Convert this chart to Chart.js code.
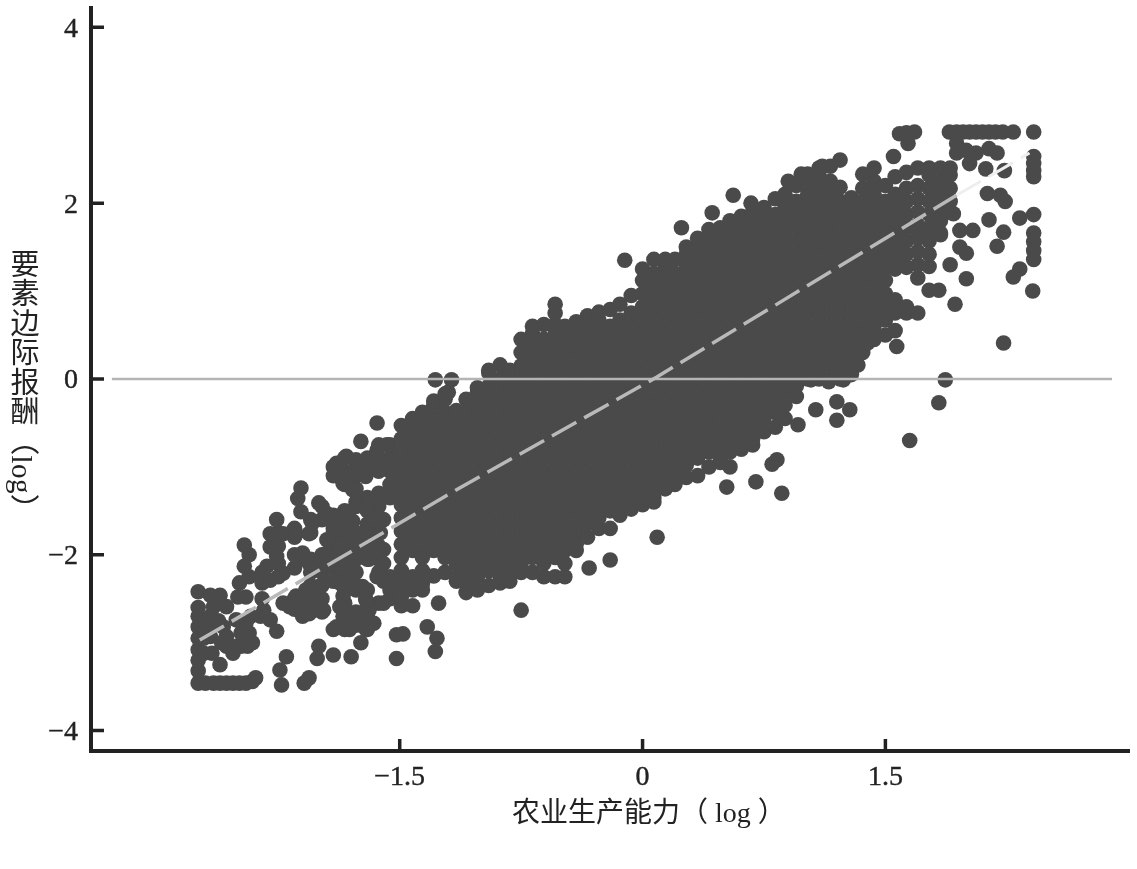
<!DOCTYPE html>
<html><head><meta charset="utf-8">
<script src="https://cdn.jsdelivr.net/npm/chart.js@4"></script>
<style>
html,body{margin:0;padding:0;background:#fff}
#wrap{position:relative;width:1137px;height:869px}
#yt{position:absolute;left:5px;top:249px;writing-mode:vertical-rl;font:29px "Liberation Serif","Noto Sans CJK SC",serif;letter-spacing:.5px;color:#222;line-height:34px;white-space:nowrap}
#xt{position:absolute;left:512px;top:797px;font:28px "Liberation Serif","Noto Sans CJK SC",serif;color:#222;line-height:32px;white-space:nowrap}
</style></head><body>
<div id="wrap"><canvas id="c" width="1137" height="869"></canvas><div id="yt">要素边际报酬（log）</div><div id="xt">农业生产能力（ log ）</div></div>
<script>
const xTickValues=[-1.5,0,1.5];
const yTickValues=[-4,-2,0,2,4];
const denseX=[-1.56,-1.49,-1.42,-1.36,-1.29,-1.22,-1.15,-1.09,-1.02,-.95,-.88,-.82,-.75,-.68,-.61,-.54,-.48,-.41,-.34,-.27,-.2,-.14,-.07,0,.07,.14,.2,.27,.34,.41,.48,.54,.61,.68,.75,.82,.88,.95,1.02,1.09,1.16,1.22,1.29,1.36,1.43,1.5,1.56,1.63,1.7,1.77,1.84,1.9];
const denseY=[
[-2.5,-2.4,-2.25,-1.35,-1.2,-1.05,-.9,-.75],
[-2.58,-2.48,-2.33,-2.18,-2.03,-1.88,-1.73,-1.58,-1.43,-1.28,-1.13,-.98,-.83,-.68,-.53],
[-2.58,-2.4,-2.25,-1.95,-1.8,-1.65,-1.5,-1.35,-1.2,-1.05,-.9,-.75,-.6,-.45],
[-2.4,-2.33,-2.18,-2.03,-1.88,-1.73,-1.58,-1.43,-1.28,-1.13,-.98,-.83,-.68,-.53,-.38],
[-2.24,-1.95,-1.8,-1.65,-1.5,-1.35,-1.2,-1.05,-.9,-.75,-.6,-.45,-.3,-.25],
[-2.2,-2.03,-1.88,-1.73,-1.58,-1.43,-1.28,-1.13,-.98,-.83,-.68,-.53,-.38,-.23,-.17],
[-2.3,-2.25,-2.1,-1.95,-1.8,-1.65,-1.5,-1.35,-1.2,-1.05,-.9,-.75,-.6,-.45,-.36],
[-2.43,-2.33,-2.18,-2.03,-1.88,-1.73,-1.58,-1.43,-1.28,-1.13,-.98,-.83,-.68,-.53,-.38,-.23],
[-2.4,-2.25,-2.1,-1.95,-1.8,-1.65,-1.5,-1.35,-1.2,-1.05,-.9,-.75,-.6,-.45,-.3,-.15,-.1],
[-2.35,-2.18,-2.03,-1.88,-1.73,-1.58,-1.43,-1.28,-1.13,-.98,-.83,-.68,-.53,-.38,-.23,-.08,.07,.1],
[-2.32,-2.25,-2.1,-1.95,-1.8,-1.65,-1.5,-1.35,-1.2,-1.05,-.9,-.75,-.6,-.45,-.3,-.15,0,.16],
[-2.3,-2.18,-2.03,-1.88,-1.73,-1.58,-1.43,-1.28,-1.13,-.98,-.83,-.68,-.53,-.38,-.23,-.08,.07,.1],
[-2.2,-2.1,-1.95,-1.8,-1.65,-1.5,-1.35,-1.2,-1.05,-.9,-.75,-.6,-.45,-.3,-.15,0,.15,.3,.45],
[-2.2,-2.03,-1.88,-1.73,-1.58,-1.43,-1.28,-1.13,-.98,-.83,-.68,-.53,-.38,-.23,-.08,.07,.22,.37,.52,.6],
[-2.25,-2.1,-1.95,-1.8,-1.65,-1.5,-1.35,-1.2,-1.05,-.9,-.75,-.6,-.45,-.3,-.15,0,.15,.3,.45,.62],
[-2.25,-2.03,-1.88,-1.73,-1.58,-1.43,-1.28,-1.13,-.98,-.83,-.68,-.53,-.38,-.23,-.08,.07,.22,.37,.52,.62,.75,.85],
[-2.25,-2.1,-1.95,-1.8,-1.65,-1.5,-1.35,-1.2,-1.05,-.9,-.75,-.6,-.45,-.3,-.15,0,.15,.3,.45,.6],
[-1.95,-1.88,-1.73,-1.58,-1.43,-1.28,-1.13,-.98,-.83,-.68,-.53,-.38,-.23,-.08,.07,.22,.37,.52,.65],
[-1.8,-1.65,-1.5,-1.35,-1.2,-1.05,-.9,-.75,-.6,-.45,-.3,-.15,0,.15,.3,.45,.6,.72],
[-1.7,-1.58,-1.43,-1.28,-1.13,-.98,-.83,-.68,-.53,-.38,-.23,-.08,.07,.22,.37,.52,.67,.76],
[-1.7,-1.5,-1.35,-1.2,-1.05,-.9,-.75,-.6,-.45,-.3,-.15,0,.15,.3,.45,.6,.79],
[-1.55,-1.43,-1.28,-1.13,-.98,-.83,-.68,-.53,-.38,-.23,-.08,.07,.22,.37,.52,.67,.85],
[-1.48,-1.35,-1.2,-1.05,-.9,-.75,-.6,-.45,-.3,-.15,0,.15,.3,.45,.6,.75,.95],
[-1.43,-1.28,-1.13,-.98,-.83,-.68,-.53,-.38,-.23,-.08,.07,.22,.37,.52,.67,.82,.97,1.12,1.25],
[-1.4,-1.35,-1.2,-1.05,-.9,-.75,-.6,-.45,-.3,-.15,0,.15,.3,.45,.6,.75,.9,1.05,1.2,1.36],
[-1.25,-1.13,-.98,-.83,-.68,-.53,-.38,-.23,-.08,.07,.22,.37,.52,.67,.82,.97,1.12,1.27,1.36],
[-1.2,-1.05,-.9,-.75,-.6,-.45,-.3,-.15,0,.15,.3,.45,.6,.75,.9,1.05,1.2,1.36],
[-1.12,-.98,-.83,-.68,-.53,-.38,-.23,-.08,.07,.22,.37,.52,.67,.82,.97,1.12,1.27,1.42,1.5],
[-1.1,-.9,-.75,-.6,-.45,-.3,-.15,0,.15,.3,.45,.6,.75,.9,1.05,1.2,1.35,1.5,1.6],
[-1,-.83,-.68,-.53,-.38,-.23,-.08,.07,.22,.37,.52,.67,.82,.97,1.12,1.27,1.42,1.57,1.7],
[-.95,-.9,-.75,-.6,-.45,-.3,-.15,0,.15,.3,.45,.6,.75,.9,1.05,1.2,1.35,1.5,1.65,1.72],
[-1,-.83,-.68,-.53,-.38,-.23,-.08,.07,.22,.37,.52,.67,.82,.97,1.12,1.27,1.42,1.57,1.72,1.8],
[-.8,-.75,-.6,-.45,-.3,-.15,0,.15,.3,.45,.6,.75,.9,1.05,1.2,1.35,1.5,1.65,1.8,1.85],
[-.75,-.68,-.53,-.38,-.23,-.08,.07,.22,.37,.52,.67,.82,.97,1.12,1.27,1.42,1.57,1.72,1.87,1.9],
[-.6,-.45,-.3,-.15,0,.15,.3,.45,.6,.75,.9,1.05,1.2,1.35,1.5,1.65,1.8,1.95],
[-.55,-.38,-.23,-.08,.07,.22,.37,.52,.67,.82,.97,1.12,1.27,1.42,1.57,1.72,1.87,2.05],
[-.45,-.3,-.15,0,.15,.3,.45,.6,.75,.9,1.05,1.2,1.35,1.5,1.65,1.8,1.95,2.1],
[-.2,-.08,.07,.22,.37,.52,.67,.82,.97,1.12,1.27,1.42,1.57,1.72,1.87,2.02,2.2],
[0,.15,.3,.45,.6,.75,.9,1.05,1.2,1.35,1.5,1.65,1.8,1.95,2.1,2.25,2.33],
[0,.07,.22,.37,.52,.67,.82,.97,1.12,1.27,1.42,1.57,1.72,1.87,2.02,2.17,2.32,2.4],
[0,.15,.3,.45,.6,.75,.9,1.05,1.2,1.35,1.5,1.65,1.8,1.95,2.1,2.25,2.42],
[0,.07,.22,.37,.52,.67,.82,.97,1.12,1.27,1.42,1.57,1.72,1.87,2.02,2.18],
[.05,.15,.3,.45,.6,.75,.9,1.05,1.2,1.35,1.5,1.65,1.8,1.95,2.06],
[.3,.37,.52,.67,.82,.97,1.12,1.27,1.42,1.57,1.72,1.87,2.02,2.17,2.33],
[.45,.6,.75,.9,1.05,1.2,1.35,1.5,1.65,1.8,1.95,2.1,2.25,2.4],
[.5,.67,.82,.97,1.12,1.27,1.42,1.57,1.72,1.87,2.02,2.2],
[.55,.75,.9,1.25,1.35,1.5,1.65,1.8,1.95,2.1,2.3],
[.75,.82,1.27,1.42,1.57,1.72,1.87,2.02,2.17,2.35],
[.75,1.15,1.3,1.45,1.6,1.75,1.9,2.05,2.2,2.4],
[1.28,1.42,1.57,1.72,1.87,2.02,2.17,2.32,2.4],
[1.66,1.8,1.95,2.1,2.25,2.4],
[1.9,2.02,2.17,2.32,2.4]];
const tailColX=[-1.63,-1.7,-1.77,-1.84,-1.91,-1.98,-2.05,-2.15,-2.25,-2.35];
const tailColY=[
[-.75,-.9,-1.05,-1.3,-1.45,-1.6,-1.75,-1.9,-2.05,-2.2,-2.55],
[-.9,-1.05,-1.35,-1.5,-1.65,-1.8,-1.95,-2.05,-2.4,-2.55,-2.7,-2.85],
[-.95,-1.1,-1.25,-1.4,-1.75,-1.9,-2.05,-2.2,-2.35,-2.65,-2.8],
[-.9,-1.05,-1.2,-1.5,-1.65,-1.8,-1.95,-2.1,-2.25,-2.4,-2.55,-2.7,-2.85],
[-1,-1.1,-1.55,-1.7,-1.85,-2,-2.15,-2.3,-2.85],
[-1.45,-1.6,-2,-2.2,-2.35,-2.5,-2.65],
[-1.6,-1.75,-2.05,-2.2,-2.35,-2.5,-2.65],
[-1.7,-1.8,-2,-2.15,-2.5,-2.62],
[-1.75,-1.9,-2.1,-2.25],
[-2.2,-2.5]];
const lowTailX=[-2.745,-2.7,-2.65,-2.61,-2.57,-2.53,-2.49,-2.45,-2.41,-2.39,-2.745,-2.745,-2.745,-2.745,-2.745,-2.745,-2.745,-2.745,-2.67,-2.61,-2.65,-2.57,-2.67,-2.67,-2.59,-2.67,-2.57,-2.51,-2.66,-2.61,-2.71,-2.57,-2.48,-2.43,-2.48,-2.41,-2.45,-2.51,-2.42,-2.36,-2.3,-2.26,-2.34,-2.5,-2.45,-2.49,-2.43,-2.35,-2.3,-2.22,-2.32,-2.26,-2.46,-2.43,-2.46,-2.3,-2.3,-2.26,-2.22,-2.14,-2.06,-2.04,-1.95,-2,-2.11,-2.13,-2.11,-2.13,-2.06,-2,-2.1,-2.22,-2.14,-2.08,-2,-2.01,-1.97,-2.1,-2.06,-2.18,-2.1,-2.71,-2.71,-2.62,-2.6,-2.45,-2.53,-2.44];
const lowTailY=[-3.46,-3.46,-3.46,-3.46,-3.46,-3.46,-3.46,-3.46,-3.44,-3.4,-3.32,-3.2,-3.08,-2.95,-2.82,-2.7,-2.6,-2.42,-2.46,-2.46,-2.59,-2.59,-2.7,-2.82,-2.82,-2.93,-2.93,-3.04,-3.12,-3.25,-3.12,-3.04,-2.89,-2.89,-3.04,-3,-2.78,-2.74,-2.7,-2.7,-2.74,-2.87,-2.63,-2.48,-2.48,-2.32,-2.25,-2.32,-2.29,-2.21,-2.13,-2.02,-2.13,-2,-1.89,-1.91,-1.76,-1.6,-1.76,-1.76,-1.76,-1.64,-1.53,-1.41,-1.24,-1.36,-1.51,-2.06,-2.1,-2.13,-1.98,-2.55,-2.47,-2.4,-2.36,-2.55,-2.63,-2.7,-2.67,-2.59,-2.55,-2.82,-2.95,-2.75,-3,-3,-3.12,-3.04];
const midTailX=[-1.95,-1.89,-1.95,-1.85,-1.81,-1.77,-1.87,-1.91,-1.95,-1.87,-1.83,-1.77,-1.83,-1.71,-1.69,-1.77,-1.69,-1.66,-1.6,-1.62,-1.6,-1.62,-1.89,-1.83,-1.87,-1.85,-1.79,-1.77,-1.69,-1.71,-1.77,-1.64,-1.58,-1.6,-1.74,-1.64,-1.85,-1.87,-1.89,-1.81,-1.71,-1.66,-1.69,-1.77,-1.85,-1.83,-1.71,-1.81,-1.73,-1.64,-1.77,-1.87,-1.6,-1.6,-1.6,-1.64,-1.69,-1.79];
const midTailY=[-2.13,-2.06,-1.98,-2.17,-1.98,-1.9,-1.9,-1.75,-1.83,-1.6,-1.72,-1.75,-1.53,-1.75,-1.94,-1.45,-1.41,-1.6,-1.6,-1.75,-1.94,-1.37,-.96,-.88,-1.07,-1.19,-1.26,-1.07,-.96,-1.11,-.92,-.81,-.75,-.96,-.71,-.5,-2.47,-2.32,-2.82,-2.85,-2.84,-2.78,-2.63,-2.74,-2.7,-2.82,-2.51,-2.3,-2.36,-2.25,-2.4,-2.59,-2.55,-2.1,-2.3,-1.95,-2.05,-1.62];
const lowOutX=[-2.2,-2.24,-2.23,-2,-2.01,-1.91,-1.8,-1.74,-2.06,-2.09,-1.52,-1.52,-1.48,-1.33,-1.27,-1.28,-1.26,-1.28,-1.18,-1.2,-.75,-.33,-.2,.09,.7,.86,.83,.8,.52];
const lowOutY=[-3.16,-3.31,-3.48,-3.04,-3.18,-3.14,-3.16,-3,-3.4,-3.46,-3.18,-2.91,-2.9,-2.82,-2.95,-3.1,-2.55,-.01,-.01,-.15,-2.63,-2.15,-2.06,-1.8,-1.17,-1.3,-.92,-.97,-1.23];
const highOutX=[1.65,1.83,1.87,2.23,1.57,1.93,2.41,2,1.9,1.83,1.77,2.29,2.33,2.416,2.416,2.416,2.416,2.416,2.33,2.14,2.23,2.19,1.96,2,1.96,2.04,2.13,2.21,2.24,2.12,2.235,2.416,2.416,2.416,2.416,2.416,1.895,1.94,1.98,2.02,2.06,2.1,2.14,2.18,2.225,2.29,1.587,1.68,1.64,1.63,1.94,1.94,2.14,2.19,2.06,2,2.02,1.84,1.7,1.92,1.2,1.28,1.2,1.07,.96,1.15,1.04,1.24,1.33,1.39];
const highOutY=[-.7,-.27,-.01,.41,.37,.85,1,1.14,1.3,1.01,1.01,1.16,1.25,1.66,1.56,1.46,1.36,1.87,1.83,1.81,1.67,1.51,1.5,1.43,1.69,1.69,2.11,2.09,2.02,2.39,2.37,2.53,2.45,2.37,2.3,2.81,2.81,2.81,2.81,2.81,2.81,2.81,2.81,2.81,2.81,2.81,2.79,2.81,2.68,2.8,2.68,2.57,2.62,2.57,2.57,2.6,2.45,1.64,1.66,1.88,-.26,-.35,-.47,-.35,-.52,-.03,-.01,-.01,.16,.41];
const topEdgeX=[-.11,.24,.43,.56,.67,.9,.98,1.11,1.22,1.55];
const topEdgeY=[1.35,1.72,1.89,2.09,2,2.25,2.33,2.42,2.49,2.53];
const fitX=[-2.735,-1.13,.086,1.94];
const fitY=[-2.97,-1.24,.02,2.09];
const fitTailX=[1.94,2.39];
const fitTailY=[2.09,2.57];
const refX=[-3.278,2.9];
const refY=[0,0];

const pts=[];
denseX.forEach((x,i)=>denseY[i].forEach(y=>pts.push({x,y})));
tailColX.forEach((x,i)=>tailColY[i].forEach(y=>pts.push({x,y})));
[[lowTailX,lowTailY],[midTailX,midTailY],[lowOutX,lowOutY],[highOutX,highOutY],[topEdgeX,topEdgeY]].forEach(([a,b])=>a.forEach((x,i)=>pts.push({x,y:b[i]})));
const zip=(a,b)=>a.map((x,i)=>({x,y:b[i]}));
const FONT='"Liberation Serif","Noto Sans CJK SC",serif';
const ink='#222';
const inwardTicks={id:'inwardTicks',afterDatasetsDraw(ch){
  const {ctx,scales:{x,y}}=ch;ctx.save();ctx.strokeStyle=ink;ctx.lineWidth=3.5;ctx.beginPath();
  x.ticks.forEach(t=>{const p=x.getPixelForValue(t.value);ctx.moveTo(p,y.bottom);ctx.lineTo(p,y.bottom-12);});
  y.ticks.forEach(t=>{const p=y.getPixelForValue(t.value);ctx.moveTo(x.left,p);ctx.lineTo(x.left+13,p);});
  ctx.stroke();ctx.restore();}};
const fmt=v=>String(v).replace('-','−');
new Chart(document.getElementById('c'),{type:'scatter',plugins:[inwardTicks],
 data:{datasets:[
  {label:'fit',data:zip(fitX,fitY),showLine:true,borderColor:'#b9b9b9',borderWidth:3.5,borderDash:[28,9],pointRadius:0,order:0},
  {label:'fit tail',data:zip(fitTailX,fitTailY),showLine:true,borderColor:'#eeeeee',borderWidth:3,borderDash:[28,9],pointRadius:0,order:0},
  {label:'zero',data:zip(refX,refY),showLine:true,borderColor:'#b4b4b4',borderWidth:2.5,pointRadius:0,order:0},
  {label:'obs',data:pts,pointRadius:7.8,pointBackgroundColor:'#4a4a4a',pointBorderWidth:0,order:1}]},
 options:{responsive:false,animation:false,devicePixelRatio:1,
  layout:{padding:{top:8,right:7,left:0,bottom:0}},
  plugins:{legend:{display:false},tooltip:{enabled:false}},
  scales:{
   x:{type:'linear',min:-3.407,max:3.006,afterBuildTicks:s=>{s.ticks=xTickValues.map(value=>({value}));},
     afterFit:s=>{s.height=118;s.paddingLeft=0;s.paddingRight=0;},
     border:{display:true,color:ink,width:4},grid:{display:false,drawTicks:false},
     ticks:{padding:10,color:ink,font:{family:FONT,size:28},maxRotation:0,callback:fmt,textStrokeColor:ink,textStrokeWidth:.4}},
   y:{type:'linear',min:-4.232,max:4.22,afterBuildTicks:s=>{s.ticks=yTickValues.map(value=>({value}));},
     afterFit:s=>{s.width=91;s.paddingTop=0;s.paddingBottom=0;},
     border:{display:true,color:ink,width:4},grid:{display:false,drawTicks:false},
     ticks:{padding:13,labelOffset:2,color:ink,font:{family:FONT,size:28},callback:fmt,textStrokeColor:ink,textStrokeWidth:.4}}
  }}});
</script></body></html>
